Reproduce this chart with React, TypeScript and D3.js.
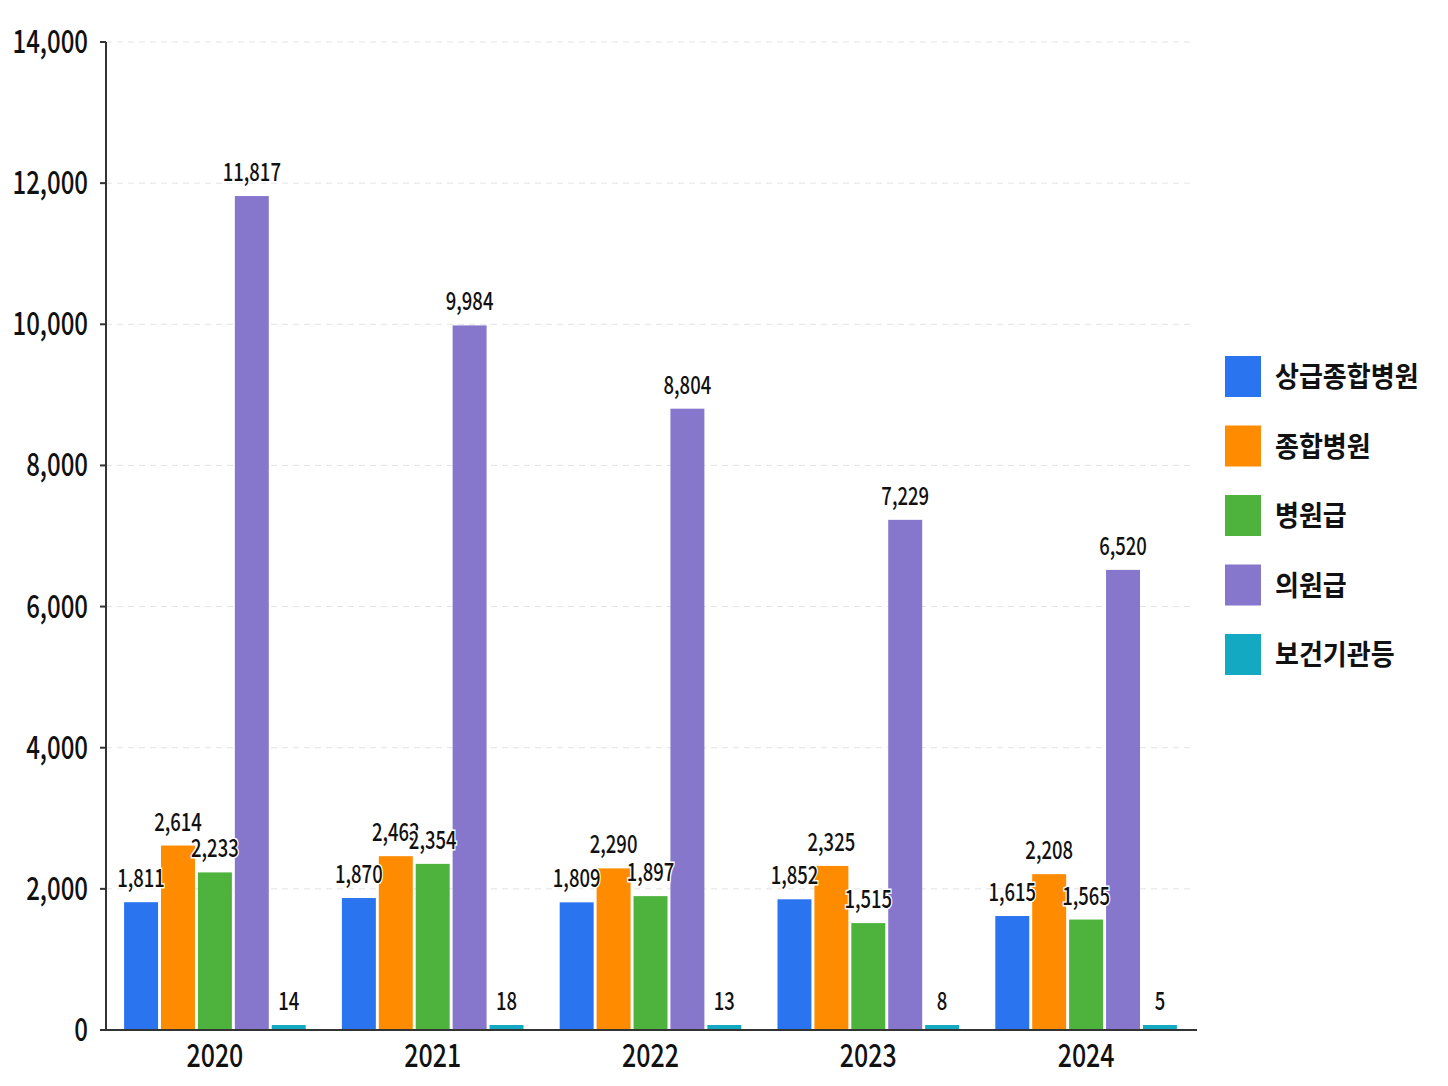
import React from 'react';
import * as d3 from 'd3';

const years = ['2020', '2021', '2022', '2023', '2024'];
const seriesNames = ['상급종합병원', '종합병원', '병원급', '의원급', '보건기관등'];
const seriesColors = ['#2b74f0', '#ff8c00', '#4db33d', '#8677cc', '#13a9c2'];
const tertiary = [1811, 1870, 1809, 1852, 1615];
const general = [2614, 2463, 2290, 2325, 2208];
const hospital = [2233, 2354, 1897, 1515, 1565];
const clinic = [11817, 9984, 8804, 7229, 6520];
const publicHealth = [14, 18, 13, 8, 5];
const yTicks = [0, 2000, 4000, 6000, 8000, 10000, 12000, 14000];

const seriesValues = [tertiary, general, hospital, clinic, publicHealth];

const FONT = '"Noto Sans CJK KR", "Noto Sans", sans-serif';

const App = () => {
  const width = 1448;
  const height = 1086;
  const margin = { top: 42, right: 253, bottom: 56, left: 106 };

  const x0 = d3
    .scaleBand()
    .domain(years)
    .range([margin.left, width - margin.right]);

  const x1 = d3
    .scaleBand()
    .domain(seriesNames)
    .range([0, x0.bandwidth()])
    .paddingInner(0.08)
    .paddingOuter(0.49);

  const y = d3
    .scaleLinear()
    .domain([0, 14000])
    .range([height - margin.bottom, margin.top]);

  const fmt = d3.format(',');
  const plotRight = width - margin.right;

  // bar geometry per (year, series), shared by bars and labels
  const cells = years.flatMap((yr, i) =>
    seriesNames.map((s, j) => {
      const v = seriesValues[j][i];
      const top = Math.min(y(v), y(0) - 5); // keep tiny bars visible
      const bx = (x0(yr) ?? 0) + (x1(s) ?? 0);
      return { key: yr + s, v, top, bx, color: seriesColors[j] };
    }),
  );

  return (
    <svg width={width} height={height} style={{ position: 'absolute', left: 0, top: 0, background: '#fff' }}>
      {/* grid */}
      {yTicks.slice(1).map((t) => (
        <line
          key={'g' + t}
          x1={margin.left}
          x2={plotRight - 2}
          y1={y(t)}
          y2={y(t)}
          stroke="#e3e3e3"
          strokeDasharray="6 5"
        />
      ))}

      {/* bars */}
      {cells.map((c) => (
        <rect
          key={'b' + c.key}
          x={c.bx}
          y={c.top}
          width={x1.bandwidth()}
          height={y(0) - c.top}
          fill={c.color}
        />
      ))}

      {/* value labels */}
      {cells.map((c) => (
        <text
          key={'v' + c.key}
          transform={`translate(${c.bx + x1.bandwidth() / 2},${c.top - 15}) scale(0.74,1)`}
          textAnchor="middle"
          fontFamily={FONT}
          fontSize={25}
          fontWeight={500}
          fill="#111"
          stroke="#fff"
          strokeWidth={3}
          paintOrder="stroke"
        >
          {fmt(c.v)}
        </text>
      ))}

      {/* y axis */}
      <line x1={margin.left} x2={margin.left} y1={y(14000)} y2={y(0)} stroke="#333" strokeWidth={2} />
      {yTicks.map((t) => (
        <g key={'t' + t}>
          <line x1={margin.left - 6} x2={margin.left} y1={y(t)} y2={y(t)} stroke="#333" strokeWidth={2} />
          <text
            transform={`translate(${margin.left - 18},${y(t) + 11}) scale(0.75,1)`}
            textAnchor="end"
            fontFamily={FONT}
            fontSize={32}
            fontWeight={500}
            fill="#111"
          >
            {fmt(t)}
          </text>
        </g>
      ))}

      {/* x axis */}
      <line x1={margin.left - 6} x2={plotRight + 2} y1={y(0)} y2={y(0)} stroke="#333" strokeWidth={2} />
      {years.map((yr) => (
        <text
          key={'x' + yr}
          transform={`translate(${(x0(yr) ?? 0) + x0.bandwidth() / 2},${y(0) + 37}) scale(0.78,1)`}
          textAnchor="middle"
          fontFamily={FONT}
          fontSize={32}
          fontWeight={500}
          fill="#111"
        >
          {yr}
        </text>
      ))}

      {/* legend */}
      {seriesNames.map((s, j) => {
        const ly = 356 + j * 69.5;
        return (
          <g key={'l' + s} transform={`translate(1225,${ly})`}>
            <rect width={36} height={41} fill={seriesColors[j]} />
            <text
              transform={`translate(50,31) scale(0.93,1)`}
              fontFamily={FONT}
              fontSize={28}
              fontWeight={700}
              fill="#111"
            >
              {s}
            </text>
          </g>
        );
      })}
    </svg>
  );
};

export default App;
